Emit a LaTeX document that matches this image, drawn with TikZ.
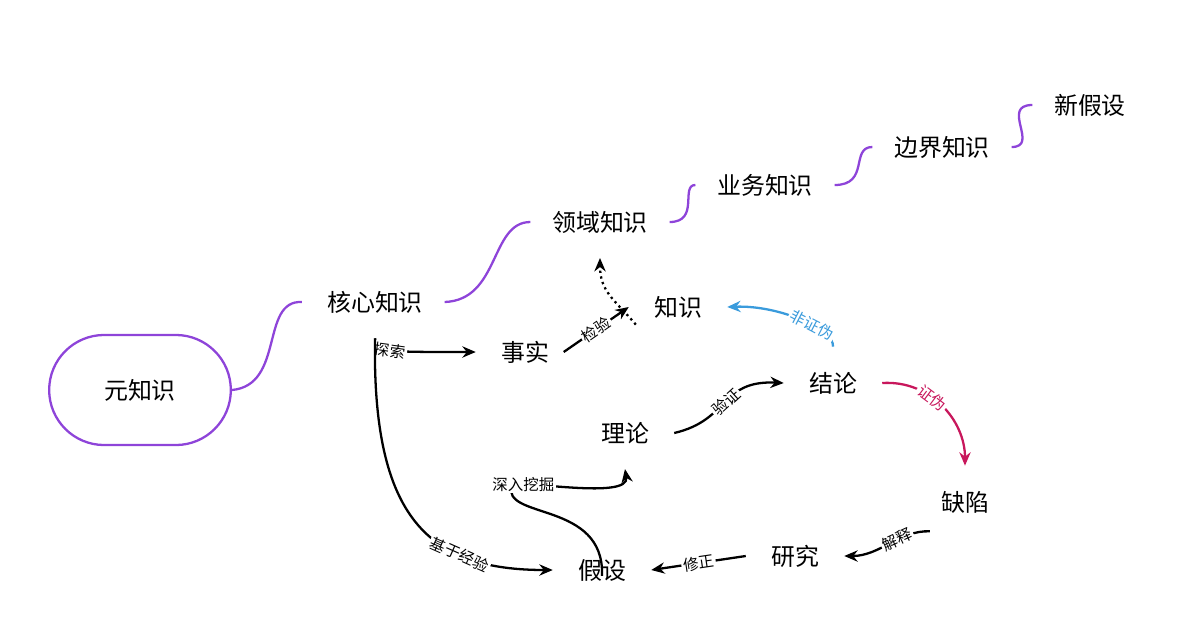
\documentclass[tikz,border=0pt]{standalone}
\usepackage{fontspec}
\setmainfont{Noto Sans CJK SC}
\usetikzlibrary{arrows.meta,positioning,shapes}
\definecolor{lila}{HTML}{8E44D9}
\definecolor{himmel}{HTML}{3A9BDC}
\definecolor{karmin}{HTML}{C8175C}
\begin{document}
\begin{tikzpicture}[x=0.01cm,y=-0.01cm]
    \tikzset{concept/.style = {inner sep=1pt,font=\fontsize{6.8}{7.5}\selectfont}}
    \tikzset{branch/.style = {lila,line width=0.65pt}}
    \tikzset{edge/.style = {-{Stealth[length=3.8pt,width=3.2pt]},line width=0.65pt}}
    \tikzset{tag/.style = {fill=white,inner sep=0.5pt,font=\fontsize{4.4}{5}\selectfont,sloped}}
    \useasboundingbox (0,0) rectangle (1200,627);
    % vertices
    \node[draw=lila,line width=0.65pt,rounded rectangle,minimum width=2.05cm,
          minimum height=1.1cm,font=\fontsize{6.8}{7.5}\selectfont] (meta) at (140,390) {元知识};
    \node[concept] (core) at (375,302) {核心知识};
    \node[concept] (domain) at (600,222) {领域知识};
    \node[concept] (biz) at (765,185) {业务知识};
    \node[concept] (bound) at (942,147) {边界知识};
    \node[concept] (newhyp) at (1090,105) {新假设};
    \node[concept] (know) at (678,307) {知识};
    \node[concept] (fact) at (525,352) {事实};
    \node[concept] (concl) at (833,383) {结论};
    \node[concept] (theory) at (625,433) {理论};
    \node[concept] (flaw) at (965,502) {缺陷};
    \node[concept] (study) at (795,556) {研究};
    \node[concept] (hyp) at (602,570) {假设};
    \coordinate (up) at (600,258);
    % branches
    \draw[branch] (meta.east) .. controls (285,385) and (260,300) .. ([xshift=-6pt]core.west);
    \draw[branch] ([xshift=5pt]core.east) .. controls (500,300) and (490,222) .. ([xshift=-5pt]domain.west);
    \draw[branch] ([xshift=5pt]domain.east) .. controls (700,222) and (680,185) .. ([xshift=-5pt]biz.west);
    \draw[branch] ([xshift=5pt]biz.east) .. controls (870,185) and (850,147) .. ([xshift=-5pt]bound.west);
    \draw[branch] ([xshift=5pt]bound.east) .. controls (1040,147) and (1000,105) .. ([xshift=-5pt]newhyp.west);
    % edges
    \draw[edge] ([yshift=-6pt]core.south) .. controls (378,352) .. ([xshift=-6pt]fact.west) node[tag,pos=0.5] {探索};
    \draw[edge] ([xshift=3pt]fact.east) -- ([xshift=-6pt]know.west) node[tag,midway] {检验};
    \draw[-{Stealth[length=3.8pt,width=3.2pt]},line width=0.65pt,densely dotted] ([xshift=-4pt,yshift=-5pt]know.west) .. controls (615,300) and (600,292) .. (up);
    \draw[edge,himmel] ([yshift=6pt]concl.north) .. controls (835,330) and (780,305) .. ([xshift=6pt]know.east) node[tag,pos=0.4] {非证伪};
    \draw[edge,karmin] ([xshift=6pt]concl.east) .. controls (930,380) and (965,420) .. ([yshift=6pt]flaw.north) node[tag,pos=0.4] {证伪};
    \draw[edge] ([xshift=-2pt,yshift=-4pt]flaw.south west) .. controls (900,530) and (880,556) .. ([xshift=6pt]study.east) node[tag,pos=0.4] {解释};
    \draw[edge] ([xshift=-6pt]study.west) -- ([xshift=6pt]hyp.east) node[tag,midway] {修正};
    \draw[edge] ([xshift=6pt]theory.east) .. controls (730,420) and (720,380) .. ([xshift=-6pt]concl.west) node[tag,pos=0.5] {验证};
    \draw[edge] ([yshift=-6pt]hyp.north) .. controls (605,500) and (500,520) .. (512,485)
        .. controls (525,480) and (630,500) .. ([yshift=-6pt]theory.south) node[tag,pos=0.15,sloped=false] {深入挖掘};
    \draw[edge] ([yshift=-6pt]core.south) .. controls (372,520) and (430,570) .. ([xshift=-6pt]hyp.west) node[tag,pos=0.7] {基于经验};
\end{tikzpicture}
\end{document}
